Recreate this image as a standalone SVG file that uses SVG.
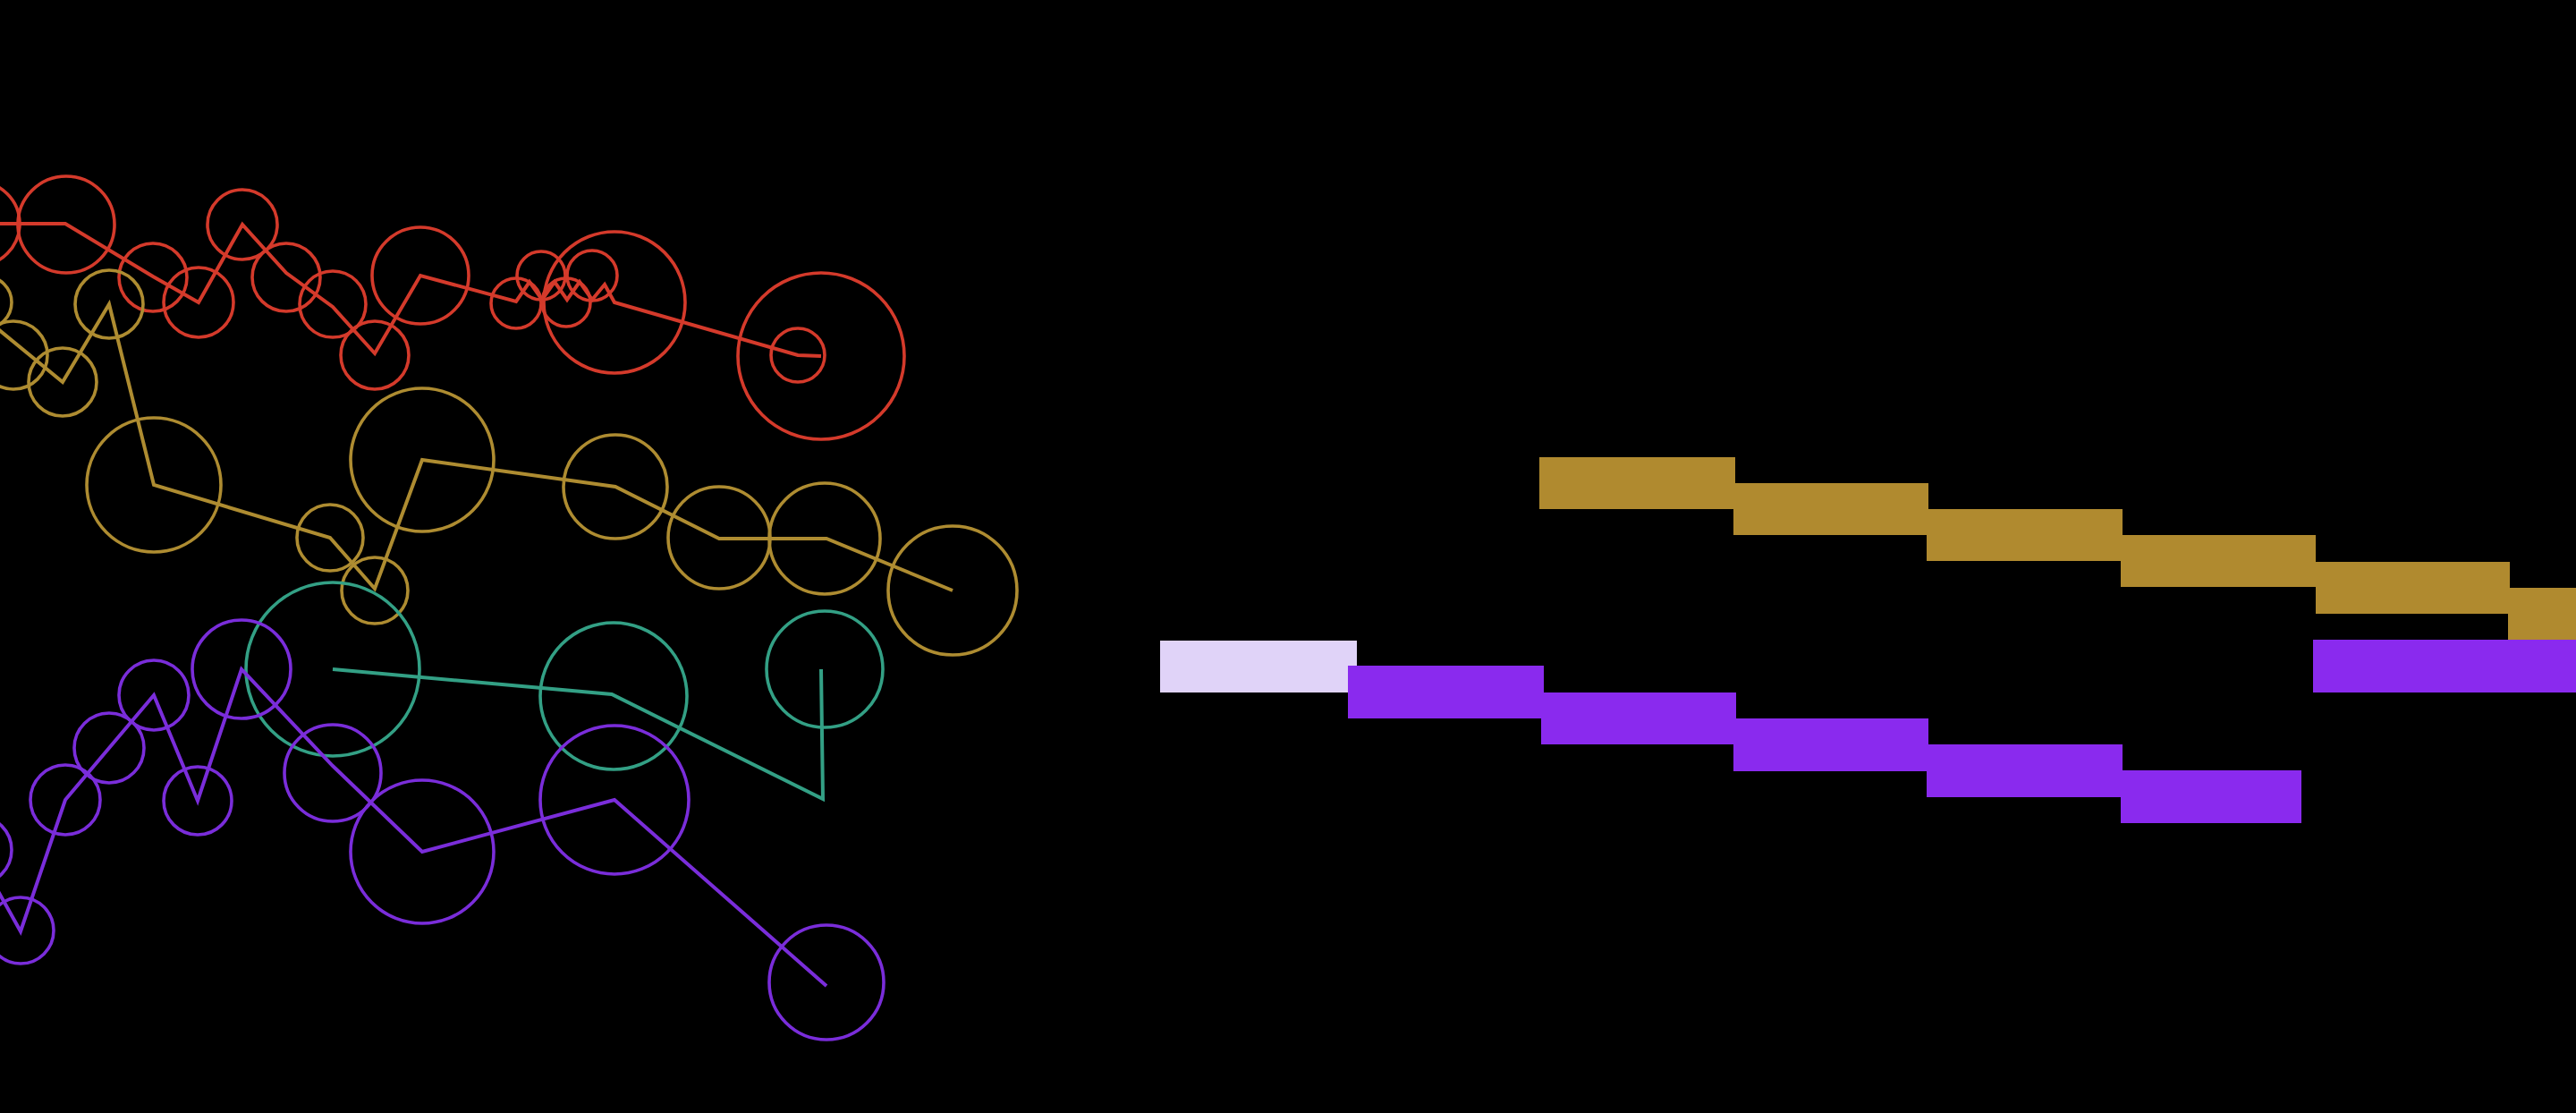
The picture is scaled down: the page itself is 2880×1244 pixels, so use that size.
<svg xmlns="http://www.w3.org/2000/svg" width="2880" height="1244" viewBox="0 0 2880 1244">
<style>
.c{fill:none;stroke-width:3.6}
.l{fill:none;stroke-width:4;stroke-linejoin:miter;stroke-linecap:butt}
.red{stroke:#D43A2B}
.gold{stroke:#AE8C31}
.teal{stroke:#33A085}
.pur{stroke:#7A2DDA}
.gb{fill:#B08A2F}
.pb{fill:#8A2AEE}
</style>
<rect x="0" y="0" width="2880" height="1244" fill="#000"/>
<g id="red">
<circle class="c red" cx="-25" cy="250" r="47"/>
<circle class="c red" cx="74" cy="251" r="54"/>
<circle class="c red" cx="171" cy="310" r="38"/>
<circle class="c red" cx="222" cy="338" r="39"/>
<circle class="c red" cx="271" cy="251" r="39"/>
<circle class="c red" cx="320" cy="310" r="38"/>
<circle class="c red" cx="372" cy="340" r="37"/>
<circle class="c red" cx="419" cy="397" r="38"/>
<circle class="c red" cx="470" cy="308" r="54"/>
<circle class="c red" cx="577" cy="339" r="28"/>
<circle class="c red" cx="605" cy="308" r="27"/>
<circle class="c red" cx="633" cy="338" r="27"/>
<circle class="c red" cx="662" cy="308" r="28"/>
<circle class="c red" cx="687" cy="338" r="79"/>
<circle class="c red" cx="918" cy="398" r="93"/>
<circle class="c red" cx="892" cy="397" r="30"/>
<polyline class="l red" points="-25,250 73,250 171,309 222,338 271,251 320,305 372,343 419,395 470,308 577,337 592,315 606,335 620,315 634,335 648,315 662,335 676,318 687,338 892,397 918,398"/>
</g>
<g id="gold">
<circle class="c gold" cx="-16" cy="338" r="29"/>
<circle class="c gold" cx="15" cy="397" r="38"/>
<circle class="c gold" cx="70" cy="427" r="38"/>
<circle class="c gold" cx="122" cy="340" r="38"/>
<circle class="c gold" cx="172" cy="542" r="75"/>
<circle class="c gold" cx="369" cy="601" r="37"/>
<circle class="c gold" cx="419" cy="660" r="37"/>
<circle class="c gold" cx="472" cy="514" r="80"/>
<circle class="c gold" cx="688" cy="544" r="58"/>
<circle class="c gold" cx="804" cy="601" r="57"/>
<circle class="c gold" cx="922" cy="602" r="62"/>
<circle class="c gold" cx="1065" cy="660" r="72"/>
<polyline class="l gold" points="-30,345 70,427 122,340 172,542 369,601 419,658 472,514 688,544 804,602 924,602 1065,660"/>
</g>
<g id="teal">
<circle class="c teal" cx="372" cy="748" r="97"/>
<circle class="c teal" cx="686" cy="778" r="82"/>
<circle class="c teal" cx="922" cy="748" r="65"/>
<polyline class="l teal" points="372,748 684,776 920,893 918,748"/>
</g>
<g id="purple">
<circle class="c pur" cx="-25" cy="950" r="38"/>
<circle class="c pur" cx="23" cy="1040" r="37"/>
<circle class="c pur" cx="73" cy="894" r="39"/>
<circle class="c pur" cx="122" cy="836" r="39"/>
<circle class="c pur" cx="172" cy="777" r="39"/>
<circle class="c pur" cx="221" cy="895" r="38"/>
<circle class="c pur" cx="270" cy="748" r="55"/>
<circle class="c pur" cx="372" cy="864" r="54"/>
<circle class="c pur" cx="472" cy="952" r="80"/>
<circle class="c pur" cx="687" cy="894" r="83"/>
<circle class="c pur" cx="924" cy="1098" r="64"/>
<polyline class="l pur" points="-25,955 23,1041 73,894 122,836 172,777 221,895 270,748 372,856 472,952 687,894 924,1102"/>
</g>
<g id="gold-blocks">
<rect class="gb" x="1721" y="511" width="219" height="58"/>
<rect class="gb" x="1938" y="540" width="218" height="58"/>
<rect class="gb" x="2154" y="569" width="219" height="58"/>
<rect class="gb" x="2371" y="598" width="218" height="58"/>
<rect class="gb" x="2589" y="628" width="217" height="58"/>
<rect class="gb" x="2804" y="657" width="80" height="58"/>
</g>
<g id="purple-blocks">
<rect x="1297" y="716" width="220" height="58" fill="#E0D3F8"/>
<rect class="pb" x="1507" y="744" width="219" height="59"/>
<rect class="pb" x="1723" y="774" width="218" height="58"/>
<rect class="pb" x="1938" y="803" width="218" height="59"/>
<rect class="pb" x="2154" y="832" width="219" height="59"/>
<rect class="pb" x="2371" y="861" width="202" height="59"/>
<rect class="pb" x="2586" y="715" width="300" height="59"/>
</g>
</svg>
